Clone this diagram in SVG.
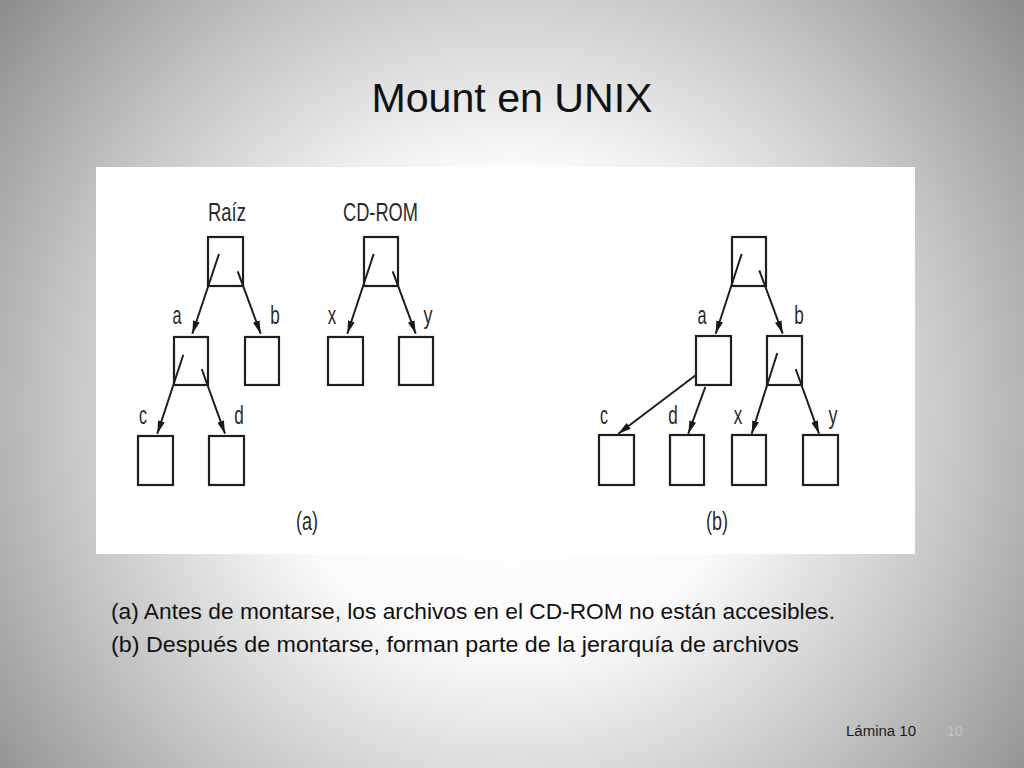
<svg xmlns="http://www.w3.org/2000/svg" width="1024" height="768" viewBox="0 0 1024 768">
<defs>
<radialGradient id="bg" gradientUnits="userSpaceOnUse" cx="512" cy="410" r="670">
<stop offset="0" stop-color="#ffffff"/>
<stop offset="0.36" stop-color="#fbfbfb"/>
<stop offset="0.72" stop-color="#bdbdbd"/>
<stop offset="1" stop-color="#888888"/>
</radialGradient>
<marker id="ah" viewBox="0 0 13 7" refX="13" refY="3.5" markerWidth="13" markerHeight="7" markerUnits="userSpaceOnUse" orient="auto">
<path d="M0,0 L13,3.5 L0,7 z" fill="#1a1a1a"/>
</marker>
<style>
.box{fill:#ffffff;stroke:#1e1e1e;stroke-width:2.2}
.edge{fill:none;stroke:#1e1e1e;stroke-width:2;marker-end:url(#ah)}
.lbl{font-family:"Liberation Sans Narrow","Liberation Sans",Arial,sans-serif;font-size:25px;fill:#2a2a2a;text-anchor:middle}
.title{font-family:"Liberation Sans",Arial,sans-serif;font-size:41px;fill:#111111;text-anchor:middle}
.cap{font-family:"Liberation Sans",Arial,sans-serif;font-size:22px;fill:#111111}
.foot{font-family:"Liberation Sans",Arial,sans-serif;font-size:14px;fill:#1a1a1a}
</style>
</defs>
<rect x="0" y="0" width="1024" height="768" fill="url(#bg)"/>
<text class="title" x="512" y="112" textLength="281" lengthAdjust="spacingAndGlyphs">Mount en UNIX</text>
<rect x="96" y="167" width="819" height="387" fill="#ffffff"/>

<g id="tree-a">
<g id="a-raiz"><rect class="box" x="208" y="237" width="35" height="49"/><text class="lbl" x="227" y="221" textLength="38" lengthAdjust="spacingAndGlyphs">Raíz</text></g>
<g id="a-cdrom"><rect class="box" x="364" y="237" width="34" height="49"/><text class="lbl" x="380.5" y="221" textLength="75" lengthAdjust="spacingAndGlyphs">CD-ROM</text></g>
<g id="a-a"><rect class="box" x="174" y="337" width="34" height="48"/><text class="lbl" x="177" y="324" textLength="9" lengthAdjust="spacingAndGlyphs">a</text></g>
<g id="a-b"><rect class="box" x="245" y="337" width="34" height="48"/><text class="lbl" x="275" y="324" textLength="9.5" lengthAdjust="spacingAndGlyphs">b</text></g>
<g id="a-x"><rect class="box" x="328" y="337" width="35" height="48"/><text class="lbl" x="332" y="324" textLength="8.5" lengthAdjust="spacingAndGlyphs">x</text></g>
<g id="a-y"><rect class="box" x="399" y="337" width="34" height="48"/><text class="lbl" x="428" y="324" textLength="9" lengthAdjust="spacingAndGlyphs">y</text></g>
<g id="a-c"><rect class="box" x="138" y="436" width="35" height="49"/><text class="lbl" x="143" y="424" textLength="8" lengthAdjust="spacingAndGlyphs">c</text></g>
<g id="a-d"><rect class="box" x="209" y="436" width="35" height="49"/><text class="lbl" x="239" y="424" textLength="9.5" lengthAdjust="spacingAndGlyphs">d</text></g>
<text class="lbl" x="307" y="530" textLength="22" lengthAdjust="spacingAndGlyphs">(a)</text>
</g>

<g id="tree-b">
<g id="b-root"><rect class="box" x="732" y="237" width="34" height="49"/></g>
<g id="b-a"><rect class="box" x="696" y="336" width="35" height="49"/><text class="lbl" x="702" y="324" textLength="9" lengthAdjust="spacingAndGlyphs">a</text></g>
<g id="b-b"><rect class="box" x="767" y="336" width="35" height="49"/><text class="lbl" x="799" y="324" textLength="9.5" lengthAdjust="spacingAndGlyphs">b</text></g>
<g id="b-c"><rect class="box" x="599" y="435" width="35" height="50"/><text class="lbl" x="604" y="424" textLength="8" lengthAdjust="spacingAndGlyphs">c</text></g>
<g id="b-d"><rect class="box" x="670" y="435" width="34" height="50"/><text class="lbl" x="673" y="424" textLength="9.5" lengthAdjust="spacingAndGlyphs">d</text></g>
<g id="b-x"><rect class="box" x="732" y="435" width="34" height="50"/><text class="lbl" x="738" y="424" textLength="8.5" lengthAdjust="spacingAndGlyphs">x</text></g>
<g id="b-y"><rect class="box" x="803" y="435" width="35" height="50"/><text class="lbl" x="833" y="424" textLength="9" lengthAdjust="spacingAndGlyphs">y</text></g>
<text class="lbl" x="717" y="530" textLength="22" lengthAdjust="spacingAndGlyphs">(b)</text>
</g>

<g id="connectors">
<line class="edge" x1="219" y1="254" x2="192.3" y2="333.7"/>
<line class="edge" x1="237.7" y1="271.3" x2="260.7" y2="333.7"/>
<line class="edge" x1="373.7" y1="254" x2="347.3" y2="333.7"/>
<line class="edge" x1="392.7" y1="271.3" x2="415.7" y2="333.7"/>
<line class="edge" x1="183.3" y1="354.7" x2="157.3" y2="433.7"/>
<line class="edge" x1="201.7" y1="369" x2="225" y2="433.7"/>
<line class="edge" x1="741.7" y1="254" x2="715.7" y2="333.7"/>
<line class="edge" x1="759.3" y1="270.3" x2="782.7" y2="333.7"/>
<line class="edge" x1="696.3" y1="374.7" x2="618.3" y2="433.7"/>
<line class="edge" x1="705.3" y1="387" x2="688.3" y2="433.7"/>
<line class="edge" x1="777.3" y1="353" x2="751.7" y2="433.7"/>
<line class="edge" x1="795.7" y1="369" x2="819" y2="433.7"/>
</g>

<text class="cap" x="111" y="619" textLength="724" lengthAdjust="spacingAndGlyphs">(a) Antes de montarse, los archivos en el CD-ROM no están accesibles.</text>
<text class="cap" x="111" y="652" textLength="688" lengthAdjust="spacingAndGlyphs">(b) Después de montarse, forman parte de la jerarquía de archivos</text>
<text class="foot" x="846" y="736" textLength="70" lengthAdjust="spacingAndGlyphs">Lámina 10</text>
<text class="foot" x="947" y="736" style="fill:#c4c4c4">10</text>
</svg>
